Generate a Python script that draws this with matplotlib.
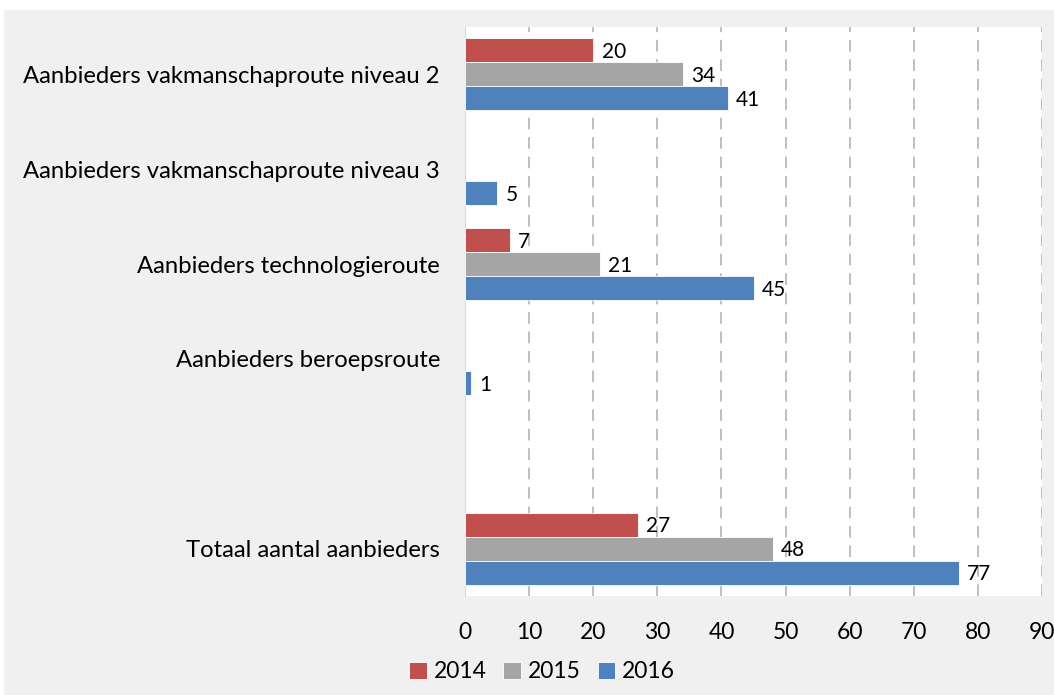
import numpy as np
import matplotlib
matplotlib.use("Agg")
import matplotlib.pyplot as plt
from matplotlib.patches import Rectangle

categories = ["Aanbieders vakmanschaproute niveau 2",
              "Aanbieders vakmanschaproute niveau 3",
              "Aanbieders technologieroute",
              "Aanbieders beroepsroute",
              "",
              "Totaal aantal aanbieders"]
years = ["2014", "2015", "2016"]
v2014 = [20, np.nan, 7, np.nan, np.nan, 27]
v2015 = [34, np.nan, 21, np.nan, np.nan, 48]
v2016 = [41, 5, 45, 1, np.nan, 77]
xticks = list(range(0, 91, 10))

colors = ["#c0504d", "#a5a5a5", "#4f81bd"]
plt.rcParams['font.family'] = ['Lato', 'DejaVu Sans']

fig = plt.figure(figsize=(10.54, 6.95), dpi=100, facecolor="white")
bg = Rectangle((4/1054, 0), 1, (695-10)/695, transform=fig.transFigure,
               facecolor="#f0f0f0", edgecolor="none", zorder=-10)
fig.add_artist(bg)
ax = fig.add_axes([465/1054, (695-596)/695, (1042-465)/1054, (596-27)/695])
ax.set_zorder(5)
ax.set_facecolor("white")

n = len(categories)
y = np.arange(n)
h = 0.253
series = [v2014, v2015, v2016]
for i, (vals, col, yr) in enumerate(zip(series, colors, years)):
    pos = y + (i - 1) * h
    ax.barh(pos, vals, height=h, color=col, label=yr, zorder=3,
            edgecolor="white", linewidth=0.6)
    for p, v in zip(pos, vals):
        if not np.isnan(v):
            ax.text(v + 1.3, p + 0.02, f"{int(v)}", va="center", ha="left",
                    fontsize=15, color="black", zorder=4)

ax.set_ylim(n - 0.5, -0.5)
ax.set_xlim(0, 90)
ax.set_xticks(xticks)
ax.set_xticklabels([str(t) for t in xticks], fontsize=16.5)
ax.set_yticks(y)
ax.set_yticklabels(categories, fontsize=17.2)
ax.tick_params(axis="x", length=0, pad=19)
ax.tick_params(axis="y", length=0, pad=18)
ax.set_axisbelow(True)
ax.xaxis.grid(True, linestyle=(0, (6, 4)), color="#bfbfbf", linewidth=1.4)
ax.yaxis.grid(False)
for s in ["top", "right", "bottom"]:
    ax.spines[s].set_visible(False)
ax.spines["left"].set_color("#d9d9d9")

leg = fig.legend(loc="center", bbox_to_anchor=(542/1054, 1 - 672/695), ncol=3,
                 frameon=False, fontsize=16.5, handlelength=0.75, handleheight=0.75,
                 handletextpad=0.3, columnspacing=0.75)

fig.savefig("out.png", dpi=100, facecolor=fig.get_facecolor())
